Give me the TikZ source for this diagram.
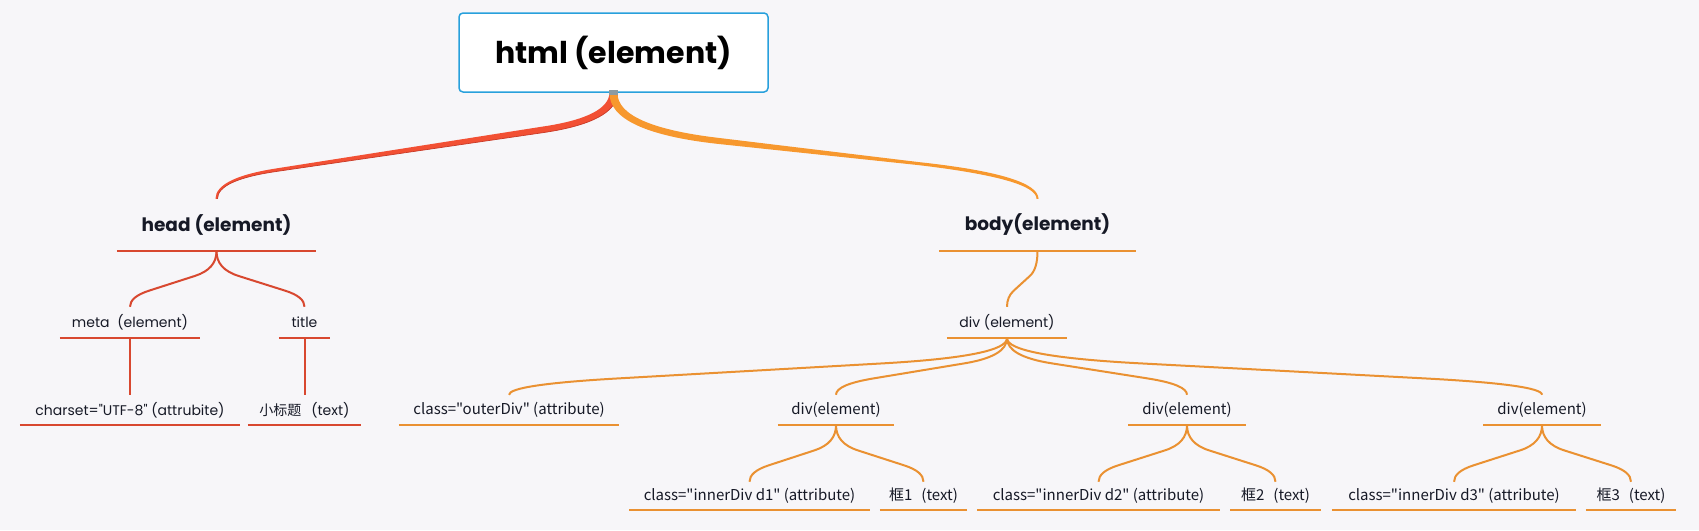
\documentclass[tikz,border=0pt]{standalone}
\usepackage{fontspec}
\newfontfamily\pop{Poppins}
\newfontfamily\cjk{Noto Sans CJK SC}
\usetikzlibrary{calc}
\definecolor{bg}{RGB}{247,246,249}
\definecolor{hred}{RGB}{216,72,48}
\definecolor{bor}{RGB}{234,145,50}
\definecolor{rootred}{RGB}{242,80,52}
\definecolor{rootreddk}{RGB}{200,58,40}
\definecolor{rootor}{RGB}{247,152,46}
\definecolor{boxblue}{RGB}{40,160,220}
\definecolor{txt}{RGB}{22,25,38}
\definecolor{knob}{RGB}{140,155,162}
\tikzset{
  lv2/.style={inner sep=0pt, minimum height=52pt, text=txt, font=\pop\bfseries\fontsize{18.5}{22}\selectfont},
  lv3/.style={inner sep=0pt, minimum height=31pt, text=txt, font=\pop\fontsize{14}{17}\selectfont},
  lv4/.style={inner sep=0pt, minimum height=30pt, text=txt, font=\pop\fontsize{14}{17}\selectfont},
  lvb/.style={inner sep=0pt, minimum height=30pt, text=txt, font=\cjk\fontsize{15}{18}\selectfont},
  lv5/.style={inner sep=0pt, minimum height=28pt, text=txt, font=\cjk\fontsize{15}{18}\selectfont},
  ulr/.style={draw=hred, line width=2.2pt},
  ulo/.style={draw=bor, line width=2.2pt},
  cr/.style={draw=hred, line width=2pt},
  co/.style={draw=bor, line width=2pt},
}
\newcommand\myconn[3]{%
  \draw[#1] let \p1=(#2), \p2=(#3), \n1={\y1-\y2},
     \p3=(\x1,{\y1-0.32*\n1}), \p4=(\x2,{\y2+0.18*\n1}),
     \p5=($(\p3)!0.25!(\p4)$), \p6=($(\p3)!0.78!(\p4)$) in
   (#2) .. controls ($(\p1)!0.6667!(\p3)$) and ($(\p5)!0.6667!(\p3)$) .. (\p5)
   -- (\p6) .. controls ($(\p6)!0.6667!(\p4)$) and ($(\p2)!0.6667!(\p4)$) .. (#3);}
\begin{document}
\begin{tikzpicture}[x=1pt,y=-1pt]
\fill[bg] (0,0) rectangle (1699,530);
\useasboundingbox (0,0) rectangle (1699,530);

% root
\node[draw=boxblue, line width=1.5pt, fill=white, rounded corners=4pt,
      minimum width=309pt, minimum height=79pt, inner sep=0pt, text=black,
      font=\pop\bfseries\fontsize{30}{34}\selectfont] (html) at (613.5,52.5) {html (element)};

% level 2
\node[lv2, minimum width=199pt] (head) at (216.5,225) {head (element)};
\node[lv2, minimum width=196pt] (body) at (1037.5,225) {body(element)};

% level 3
\node[lv3, minimum width=140pt] (meta) at (130,322.5) {meta\hspace{0.55em}(element)};
\node[lv3, minimum width=51pt] (title) at (304.5,322.5) {title};
\node[lv3, minimum width=120pt] (div0) at (1007,322.5) {div (element)};

% level 4
\node[lv4, minimum width=220pt] (charset) at (130,410) {charset="UTF-8" (attrubite)};
\node[lv4, minimum width=113pt] (xbt) at (304.5,410) {{\cjk 小标题}\hspace{0.7em}(text)};
\node[lvb, minimum width=220pt] (outer) at (509,410) {class="outerDiv" (attribute)};
\node[lvb, minimum width=116pt] (d1) at (836,410) {div(element)};
\node[lvb, minimum width=117pt] (d2) at (1187,410) {div(element)};
\node[lvb, minimum width=117pt] (d3) at (1542,410) {div(element)};

% level 5
\node[lv5, minimum width=240pt] (i1) at (749.5,496) {class="innerDiv d1" (attribute)};
\node[lv5, minimum width=87pt] (k1) at (923.5,496) {框1\hspace{0.6em}(text)};
\node[lv5, minimum width=242pt] (i2) at (1098.5,496) {class="innerDiv d2" (attribute)};
\node[lv5, minimum width=90pt] (k2) at (1275.5,496) {框2\hspace{0.6em}(text)};
\node[lv5, minimum width=244pt] (i3) at (1454,496) {class="innerDiv d3" (attribute)};
\node[lv5, minimum width=90pt] (k3) at (1631,496) {框3\hspace{0.6em}(text)};

% underlines
\foreach \n in {head,meta,title,charset,xbt}
  \draw[ulr] (\n.south west) -- (\n.south east);
\foreach \n in {body,div0,outer,d1,d2,d3,i1,k1,i2,k2,i3,k3}
  \draw[ulo] (\n.south west) -- (\n.south east);

% root connectors (tapered)
\fill[rootred] ($(html.south)+(-4,0)$) .. controls (609,108.7) and (586.4,120.3) .. (541.2,126.8)
   -- (275.8,168.5) .. controls (235.6,174.8) and (215.5,185) .. ($(head.north)+(-1,0)$)
   -- ($(head.north)+(1,0)$) .. controls (217.5,186.3) and (237.1,177.2) .. (276.2,171.5)
   -- (542,132.8) .. controls (592,125.6) and (617,112) .. ($(html.south)+(4,0)$) -- cycle;
\draw[rootreddk, line width=0.7pt] ($(head.north)+(1,0)$) .. controls (217.5,186.3) and (237.1,177.2) .. (276.2,171.5)
   -- (542,132.8) .. controls (592,125.6) and (617,112) .. ($(html.south)+(4,0)$);
\fill[rootor] ($(html.south)+(4,0)$) .. controls (617,114.7) and (651.1,130) .. (719.4,138)
   -- (918.8,162.1) .. controls (998.6,170.7) and (1038.5,183) .. ($(body.north)+(1,0)$)
   -- ($(body.north)+(-1,0)$) .. controls (1036.5,185.7) and (997.1,174.4) .. (918.4,165.1)
   -- (718.8,144) .. controls (645.6,136) and (609,118.7) .. ($(html.south)+(-4,0)$) -- cycle;
\fill[knob] ($(html.south)+(-4.5,-3)$) rectangle ($(html.south)+(4.5,2.5)$);

% head subtree
\myconn{cr}{head.south}{meta.north}
\myconn{cr}{head.south}{title.north}
\draw[cr] (meta.south) -- (charset.north);
\draw[cr] (title.south) -- (xbt.north);

% body subtree
\myconn{co}{body.south}{div0.north}
\myconn{co}{div0.south}{outer.north}
\myconn{co}{div0.south}{d1.north}
\myconn{co}{div0.south}{d2.north}
\myconn{co}{div0.south}{d3.north}
\myconn{co}{d1.south}{i1.north}
\myconn{co}{d1.south}{k1.north}
\myconn{co}{d2.south}{i2.north}
\myconn{co}{d2.south}{k2.north}
\myconn{co}{d3.south}{i3.north}
\myconn{co}{d3.south}{k3.north}
\end{tikzpicture}
\end{document}
